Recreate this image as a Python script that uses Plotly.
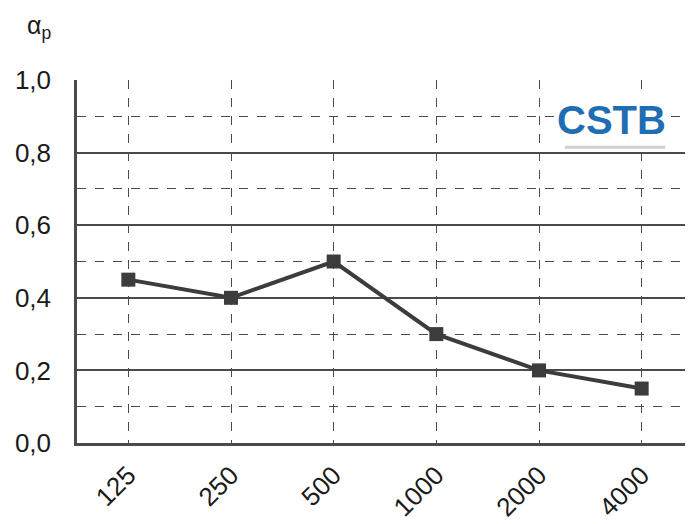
import plotly.graph_objects as go

freqs = ["125", "250", "500", "1000", "2000", "4000"]
alpha_p = [0.45, 0.40, 0.50, 0.30, 0.20, 0.15]
y_ticks = [0.0, 0.2, 0.4, 0.6, 0.8, 1.0]

fig = go.Figure()
fig.add_trace(go.Scatter(
    x=freqs, y=alpha_p, mode="lines+markers",
    line=dict(color="#3c3c3c", width=4),
    marker=dict(symbol="square", size=14, color="#3c3c3c"),
    showlegend=False,
))

fig.update_layout(
    width=693, height=524,
    margin=dict(l=69, r=8, t=72, b=89),
    paper_bgcolor="white", plot_bgcolor="white",
    separators=",.",
    font=dict(family="Liberation Sans, Arial, sans-serif", size=26, color="#1a1a1a"),
    xaxis=dict(
        type="category", range=[-0.5, 5.5], automargin=False,
        showgrid=True, gridcolor="#4a4a4a", griddash="dash", gridwidth=1,
        showline=True, linecolor="#4a4a4a", linewidth=2.5,
        tickangle=-45, ticks="", ticklabelstandoff=4,
        tickfont=dict(size=26),
    ),
    yaxis=dict(
        range=[0, 1.0], tickvals=y_ticks, tickformat=".1f", automargin=False,
        showgrid=True, gridcolor="#4a4a4a", gridwidth=1.5,
        showline=True, linecolor="#4a4a4a", linewidth=2.5,
        ticks="", ticklabelstandoff=18, zeroline=False,
        minor=dict(dtick=0.1, showgrid=True, gridcolor="#4a4a4a", griddash="dash", gridwidth=1),
        tickfont=dict(size=26),
    ),
    annotations=[
        dict(text="α<sub>p</sub>", x=-0.085, y=1.145, xref="paper", yref="paper",
             xanchor="left", yanchor="middle", showarrow=False,
             font=dict(size=25)),
        dict(text="<b>CSTB</b>", xref="paper", yref="paper", x=0.868, y=0.89,
             xanchor="center", yanchor="middle", showarrow=False,
             font=dict(family="Liberation Sans, Arial, sans-serif", size=40, color="#1f6db3"),
             bgcolor="white"),
    ],
)
fig.add_shape(type="line", line=dict(color="#d0d0d0", width=3), xref="paper", yref="paper",
              x0=0.792, x1=0.955, y0=0.815, y1=0.815)

fig.write_html("out.html")
